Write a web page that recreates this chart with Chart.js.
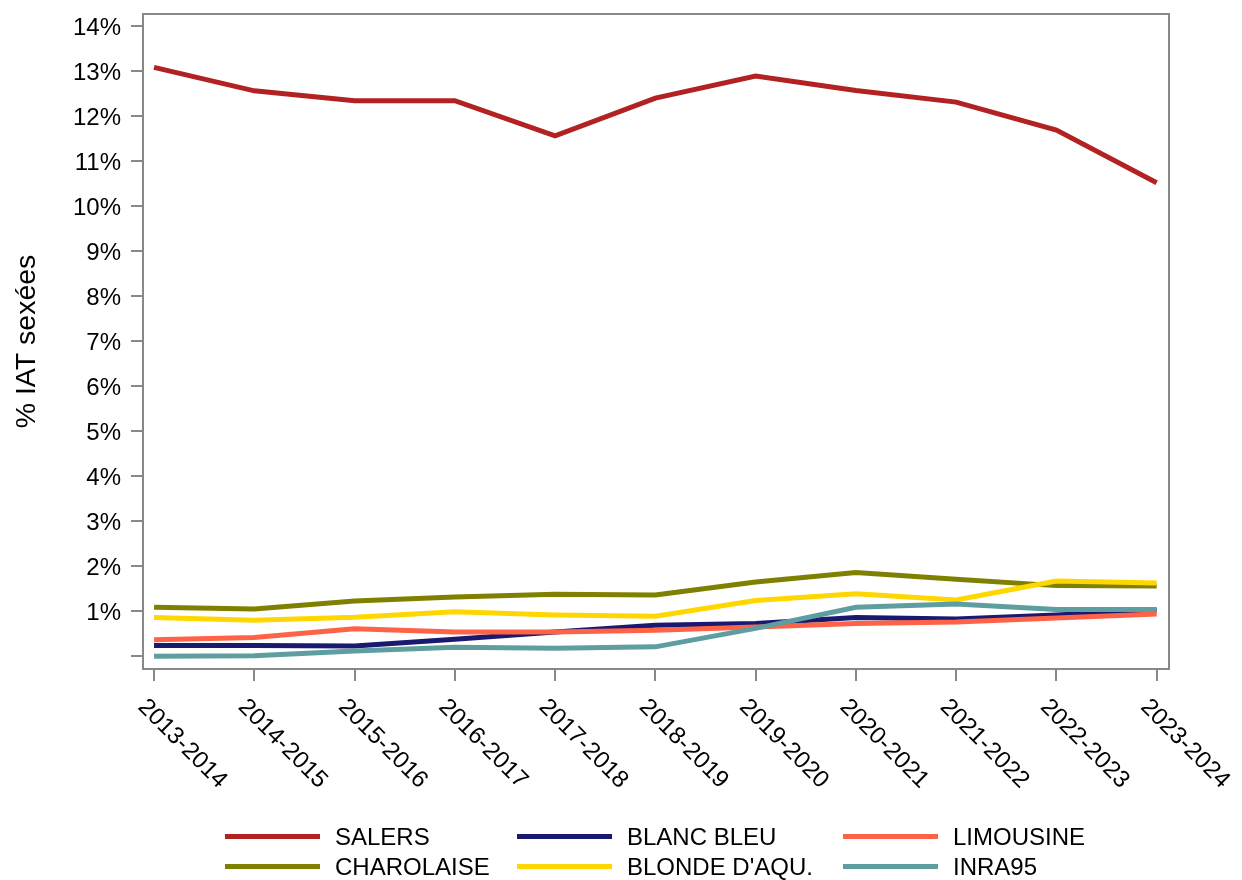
<!DOCTYPE html>
<html>
<head>
<meta charset="utf-8">
<script src="https://cdn.jsdelivr.net/npm/chart.js@4.4.1/dist/chart.umd.min.js"></script>
<style>
  html, body { margin: 0; padding: 0; background: #fff; }
  #wrap { position: relative; width: 1242px; height: 880px; }
  #legend {
    position: absolute; left: 225px; top: 821px;
    display: grid; grid-template-columns: 292px 326px auto;
    font-family: "Liberation Sans", Arial, sans-serif; font-size: 24px; color: #000;
  }
  .item { display: flex; align-items: center; height: 30px; white-space: pre; }
  .sw { width: 95px; height: 5px; margin-right: 15px; flex: none; }
  .lbl { position: relative; top: 1px; }
</style>
</head>
<body>
<div id="wrap">
  <canvas id="c" width="1242" height="880"></canvas>
  <div id="legend"></div>
</div>
<script>
const categories = ['2013-2014','2014-2015','2015-2016','2016-2017','2017-2018','2018-2019','2019-2020','2020-2021','2021-2022','2022-2023','2023-2024'];

const salers     = [13.08, 12.56, 12.34, 12.34, 11.56, 12.40, 12.89, 12.57, 12.31, 11.69, 10.52];
const blancBleu  = [0.24, 0.24, 0.23, 0.38, 0.54, 0.69, 0.73, 0.86, 0.83, 0.92, 1.03];
const limousine  = [0.37, 0.42, 0.61, 0.54, 0.54, 0.58, 0.65, 0.73, 0.76, 0.85, 0.94];
const charolaise = [1.09, 1.05, 1.23, 1.32, 1.38, 1.36, 1.65, 1.86, 1.71, 1.57, 1.56];
const blonde     = [0.86, 0.80, 0.87, 0.99, 0.92, 0.89, 1.24, 1.39, 1.25, 1.67, 1.63];
const inra95     = [0.00, 0.01, 0.12, 0.20, 0.18, 0.21, 0.62, 1.09, 1.16, 1.04, 1.04];

const seriesNames  = ['SALERS', 'BLANC BLEU', 'LIMOUSINE', 'CHAROLAISE', "BLONDE D'AQU.", 'INRA95'];
const seriesValues = [salers, blancBleu, limousine, charolaise, blonde, inra95];
const seriesColors = ['#B22222', '#191970', '#FF6347', '#808000', '#FFD700', '#5F9EA0'];

const yTickValues = [0,1,2,3,4,5,6,7,8,9,10,11,12,13,14];
const yTickLabels = ['', '1%','2%','3%','4%','5%','6%','7%','8%','9%','10%','11%','12%','13%','14%'];
const yTitle = '% IAT sexées';

const FONT = '"Liberation Sans", Arial, sans-serif';
const AXIS = '#888888';

const datasets = seriesNames.map((name, i) => ({
  label: name,
  data: seriesValues[i].map((v, k) => ({ x: k, y: v })),
  borderColor: seriesColors[i],
  backgroundColor: seriesColors[i],
  borderWidth: 5,
  pointRadius: 0,
  tension: 0,
  fill: false,
  order: seriesNames.length - 1 - i
}));

const frame = {
  id: 'frame',
  afterDraw(chart) {
    const ctx = chart.ctx, a = chart.chartArea, xs = chart.scales.x;
    ctx.save();
    ctx.strokeStyle = AXIS;
    ctx.lineWidth = 2;
    ctx.strokeRect(a.left, a.top, a.right - a.left, a.bottom - a.top);
    ctx.fillStyle = '#000';
    ctx.font = '24px ' + FONT;
    ctx.textAlign = 'left';
    ctx.textBaseline = 'alphabetic';
    categories.forEach((c, i) => {
      const x = xs.getPixelForValue(i);
      ctx.save();
      ctx.translate(x - 17, a.bottom + 39);
      ctx.rotate(Math.PI / 4);
      ctx.fillText(c, 0, 0);
      ctx.restore();
    });
    ctx.restore();
  }
};

new Chart(document.getElementById('c'), {
  type: 'line',
  data: { datasets },
  plugins: [frame],
  options: {
    responsive: false,
    animation: false,
    layout: { padding: { top: 14, right: 73, left: 0, bottom: 0 } },
    plugins: { legend: { display: false }, tooltip: { enabled: false } },
    scales: {
      x: {
        type: 'linear', min: -0.11, max: 10.123,
        afterBuildTicks: s => { s.ticks = categories.map((c, i) => ({ value: i })); },
        afterFit: s => { s.height = 211; s.paddingLeft = 0; s.paddingRight = 0; },
        ticks: { display: false, autoSkip: false },
        grid: { drawOnChartArea: false, drawTicks: true, tickLength: 12, color: AXIS, lineWidth: 2 },
        border: { display: false }
      },
      y: {
        type: 'linear', min: -0.282, max: 14.267,
        afterBuildTicks: s => { s.ticks = yTickValues.map(v => ({ value: v })); },
        afterFit: s => { s.width = 143; s.paddingTop = 0; s.paddingBottom = 0; },
        ticks: {
          autoSkip: false, padding: 10, color: '#000', labelOffset: 2,
          font: { size: 24, family: FONT },
          callback: (v, i) => yTickLabels[i]
        },
        grid: { drawOnChartArea: false, drawTicks: true, tickLength: 12, color: AXIS, lineWidth: 2 },
        border: { display: false },
        title: {
          display: true, text: yTitle, color: '#000',
          font: { size: 28.5, family: FONT, lineHeight: 1 },
          padding: { top: 13, bottom: 0 }
        }
      }
    }
  }
});

const legend = document.getElementById('legend');
seriesNames.forEach((name, i) => {
  const it = document.createElement('div');
  it.className = 'item';
  const sw = document.createElement('span');
  sw.className = 'sw';
  sw.style.background = seriesColors[i];
  const lb = document.createElement('span');
  lb.className = 'lbl';
  lb.textContent = name;
  it.appendChild(sw); it.appendChild(lb);
  legend.appendChild(it);
});
</script>
</body>
</html>
